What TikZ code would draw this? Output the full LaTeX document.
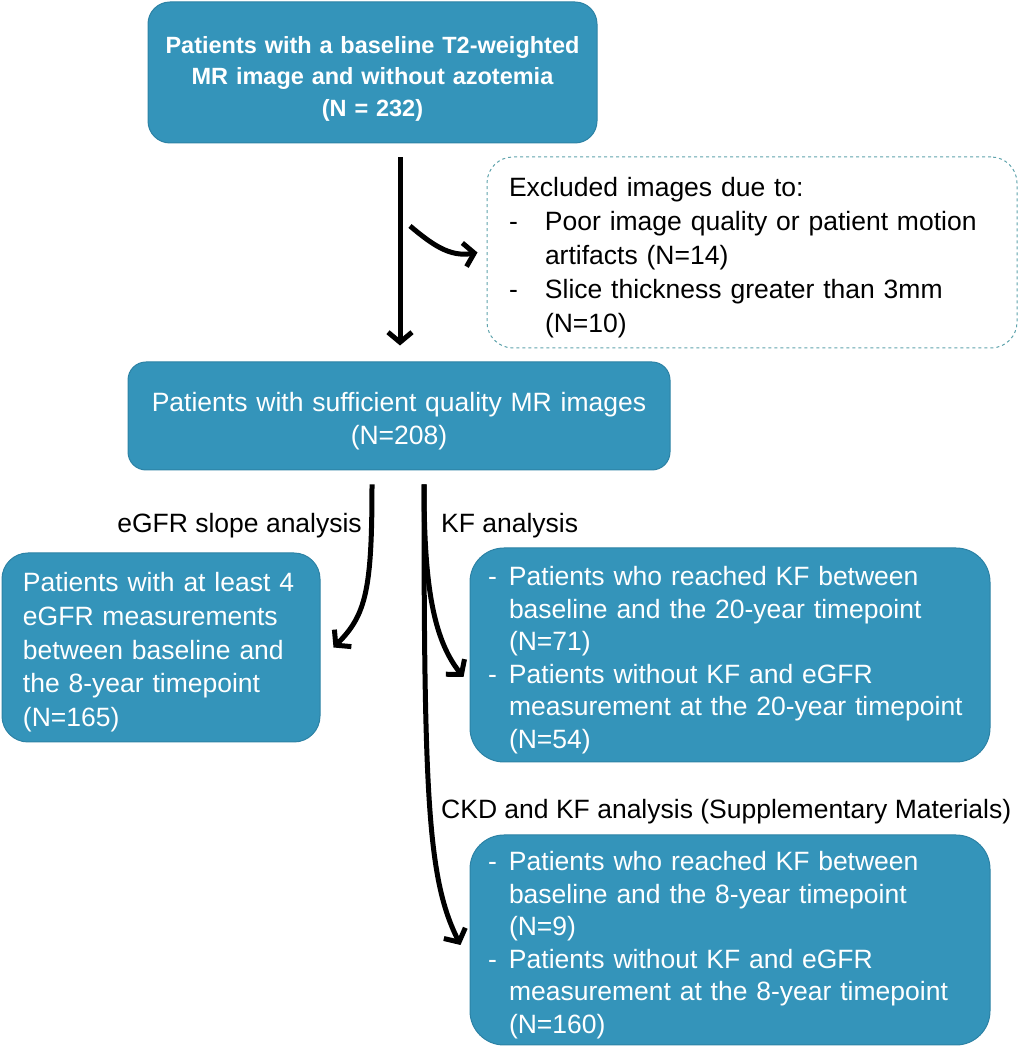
\documentclass[tikz,border=0pt]{standalone}
\usepackage{fontspec}
\setmainfont{Liberation Sans}
\usetikzlibrary{arrows.meta}
\definecolor{boxblue}{HTML}{3494BA}
\definecolor{boxedge}{HTML}{2C82A5}
\definecolor{dashcol}{HTML}{5FA3AC}
\newcommand{\tp}{\rule{0pt}{29pt}}
\newcommand{\itm}[1]{\makebox[21pt][l]{-}#1}
\newcommand{\cnt}{\hspace*{21pt}}
\newcommand{\xitm}[1]{\makebox[36pt][l]{-}#1}
\newcommand{\xcnt}{\hspace*{36pt}}
\tikzset{
  pbox/.style={rectangle, fill=boxblue, draw=boxedge, line width=1pt, text=white,
    inner ysep=0pt, font=\fontsize{26.5}{33}\selectfont},
  xbox/.style={rectangle, rounded corners=26pt, draw=dashcol, dashed, line width=1pt,
    inner ysep=0pt, font=\fontsize{26.5}{34}\selectfont},
  lbl/.style={font=\fontsize{26.5}{33}\selectfont, inner sep=0pt},
  arr/.style={-{Straight Barb[length=10pt,width=24pt]}, line width=5pt}
}
\begin{document}
\begin{tikzpicture}[x=1pt,y=1pt]
    \useasboundingbox (0,0) rectangle (1020,1050);

    \node (top) [pbox, rounded corners=22pt, inner xsep=10pt, text width=429pt, minimum height=141pt,
      align=center, font=\fontsize{23.5}{31.5}\selectfont\bfseries] at (372.5,977.5)
      {\tp Patients with a baseline T2-weighted\\ MR image and without azotemia\\ (N = 232)};

    \node (excl) [xbox, inner xsep=22pt, text width=486pt, minimum height=191pt, align=left] at (752,797.5)
      {\tp Excluded images due to:\\
       \xitm{Poor image quality or patient motion}\\
       \xcnt artifacts (N=14)\\
       \xitm{Slice thickness greater than 3mm}\\
       \xcnt (N=10)};

    \node (mid) [pbox, rounded corners=18pt, inner xsep=10pt, text width=522pt, minimum height=108pt,
      align=center] at (399,634)
      {\tp Patients with sufficient quality MR images\\ (N=208)};

    \node (slope) [pbox, rounded corners=26pt, inner xsep=21pt, text width=276pt, minimum height=189pt,
      align=left, font=\fontsize{26.5}{33.7}\selectfont] at (161,402.5)
      {\tp Patients with at least 4\\ eGFR measurements\\ between baseline and\\ the 8-year timepoint\\ (N=165)};

    \node (kf) [pbox, rounded corners=34pt, inner xsep=18pt, text width=484pt, minimum height=214pt,
      align=left, font=\fontsize{26.5}{32.5}\selectfont] at (730,395)
      {\tp\itm{Patients who reached KF between}\\
       \cnt baseline and the 20-year timepoint\\
       \cnt (N=71)\\
       \itm{Patients without KF and eGFR}\\
       \cnt measurement at the 20-year timepoint\\
       \cnt (N=54)};

    \node (ckd) [pbox, rounded corners=34pt, inner xsep=18pt, text width=484pt, minimum height=210pt,
      align=left, font=\fontsize{26.5}{32.5}\selectfont] at (730,110)
      {\tp\itm{Patients who reached KF between}\\
       \cnt baseline and the 8-year timepoint\\
       \cnt (N=9)\\
       \itm{Patients without KF and eGFR}\\
       \cnt measurement at the 8-year timepoint\\
       \cnt (N=160)};

    \node (lslope) [lbl, anchor=east] at (362,524) {eGFR slope analysis};
    \node (lkf) [lbl, anchor=west] at (441,524) {KF analysis};
    \node (lckd) [lbl, anchor=west] at (441,238) {CKD and KF analysis (Supplementary Materials)};

    \coordinate (split) at ([xshift=25pt,yshift=-14pt]mid.south);

    \draw [arr] ([xshift=27.5pt,yshift=-14pt]top.south) -- ([xshift=1pt,yshift=16pt]mid.north);
    \draw [arr] (410,824) to[out=-40,in=190] ([xshift=-9pt]excl.west);

    \draw [arr] ([xshift=-27pt,yshift=-14pt]mid.south) .. controls (372,460) and (366,435) .. ([xshift=13pt]slope.east);
    \draw [arr] (split) .. controls (424,470) and (432,412) .. ([xshift=-6pt,yshift=-22pt]kf.west);
    \draw [arr] (split) .. controls (424,250) and (428,170) .. ([xshift=-9pt,yshift=-5pt]ckd.west);
\end{tikzpicture}
\end{document}
